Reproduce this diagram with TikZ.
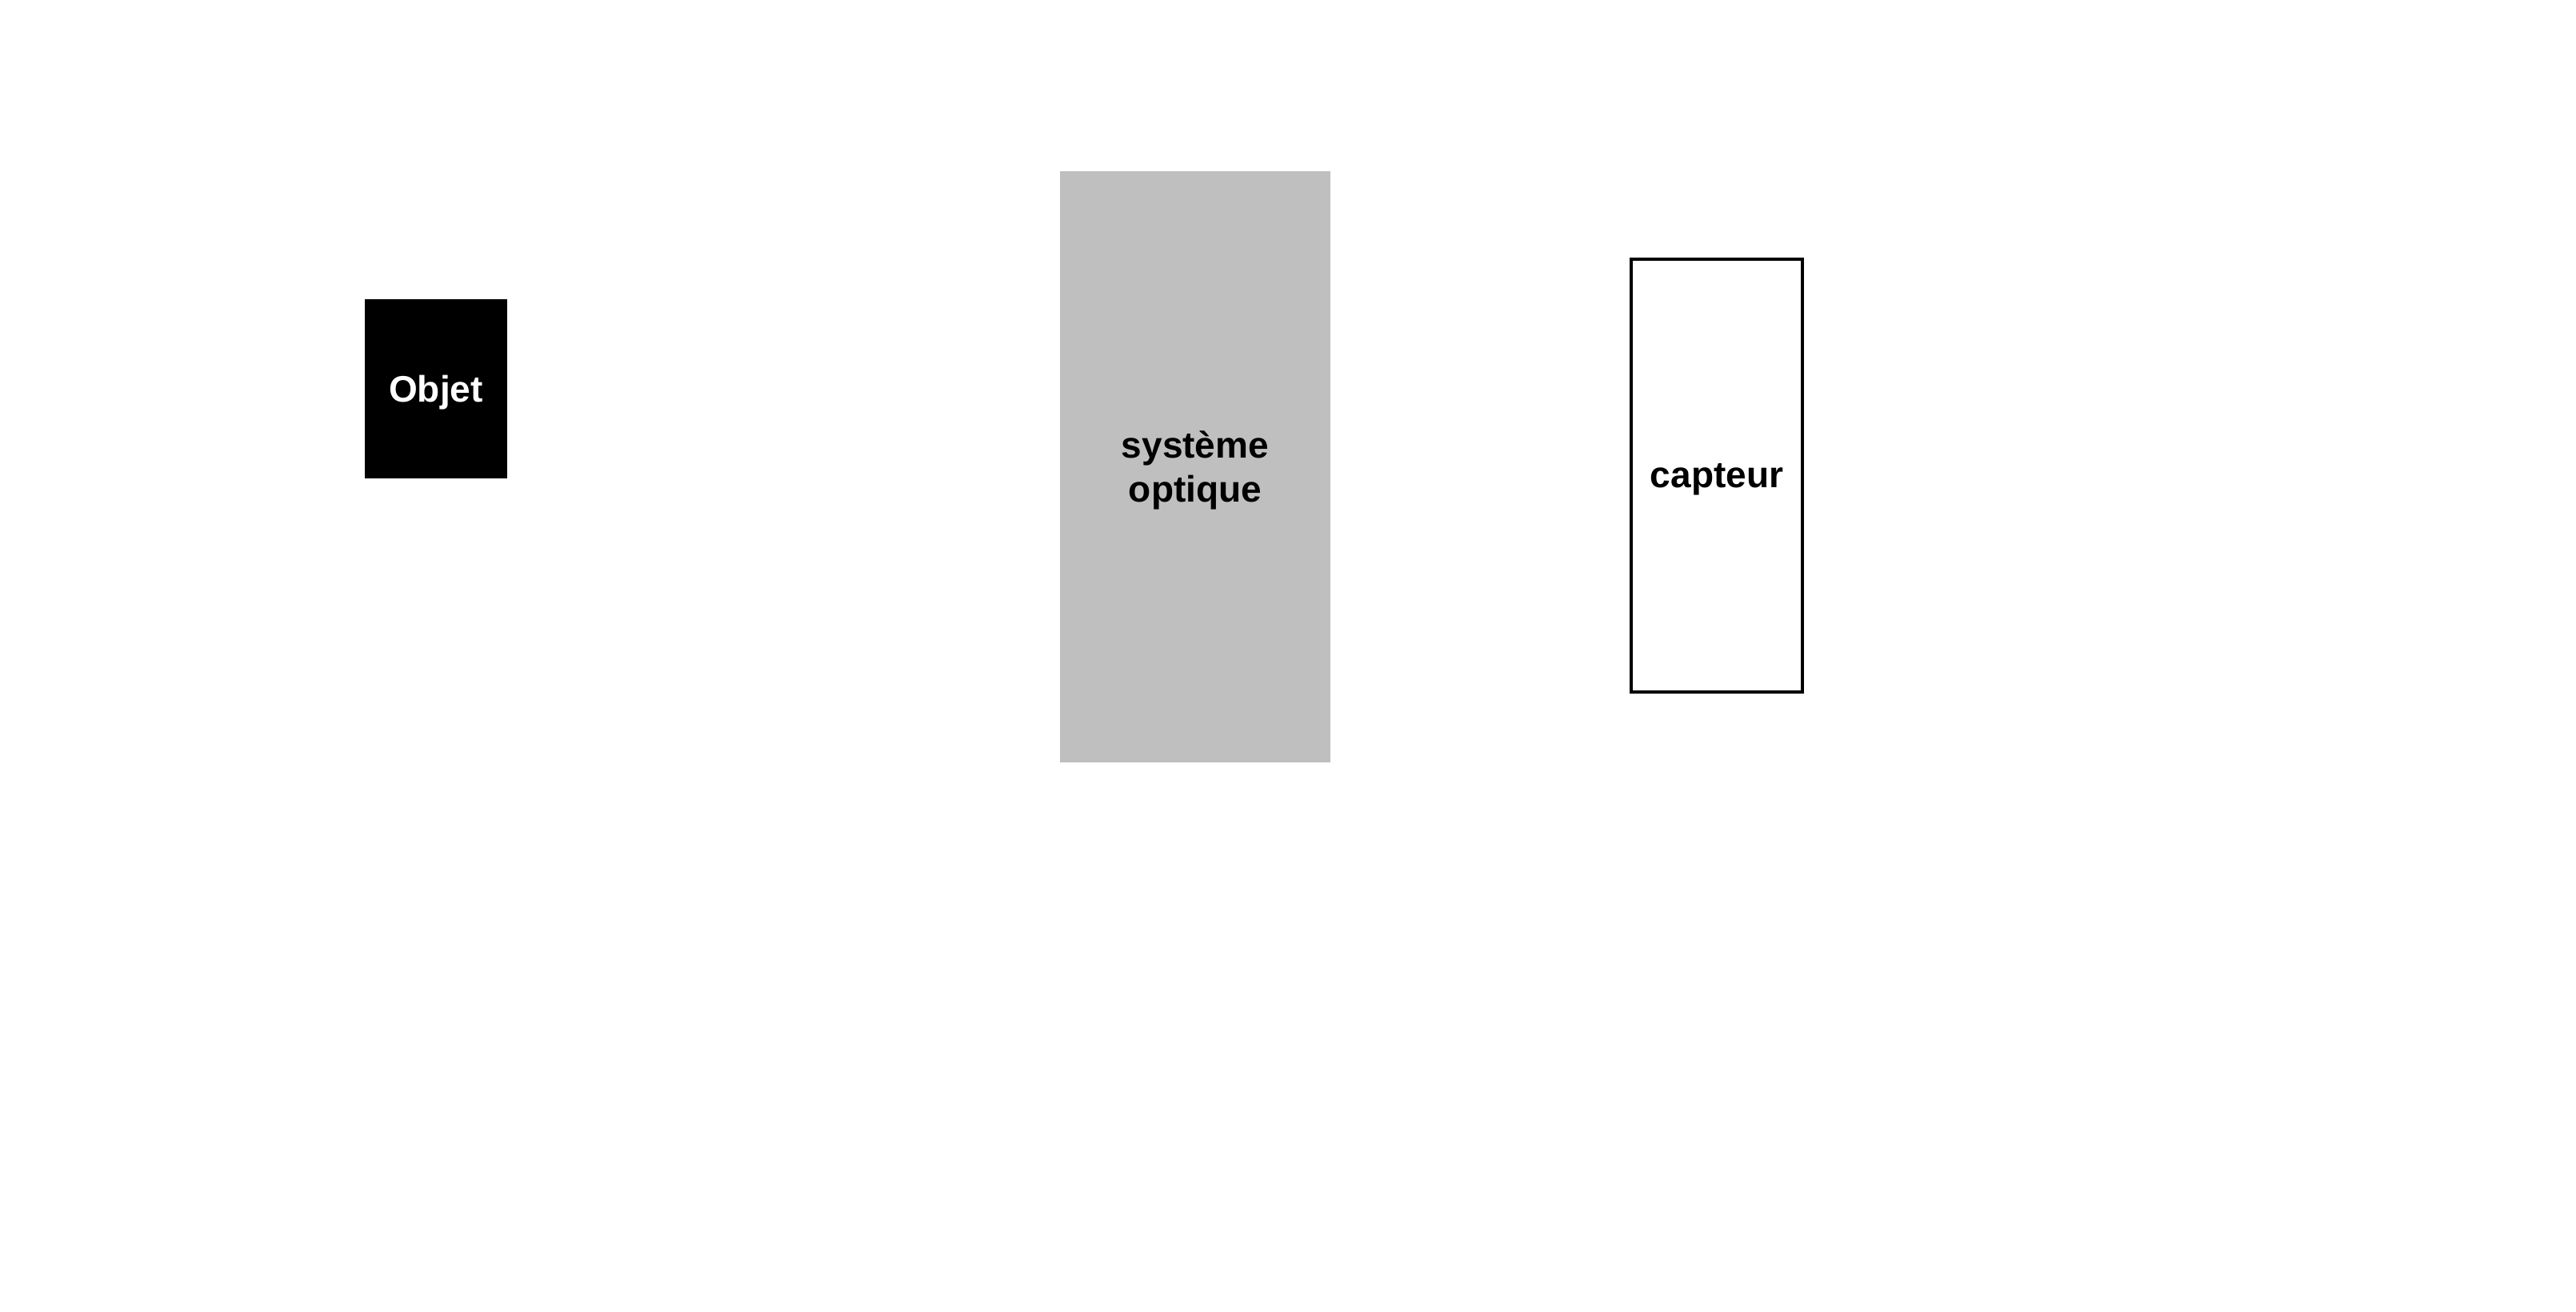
\documentclass[tikz,border=0pt]{standalone}
\usepackage{fontspec}
\setmainfont{Liberation Sans}
\usepackage{tikz}

\begin{document}
\begin{tikzpicture}[
  bloc/.style={rectangle, inner sep=0pt, align=center, text depth=0pt,
    font=\fontsize{13.1}{15.7}\selectfont\bfseries}
]
\useasboundingbox (0,0) rectangle (32.2,-16.4);
\node[bloc, fill=black, text=white, minimum width=1.78cm, minimum height=2.24cm] (objet) at (5.45, -4.86) {Objet};
\node[bloc, fill={rgb,255:red,191;green,191;blue,191}, minimum width=3.38cm, minimum height=7.39cm] (optique) at (14.94, -5.835) {système\\optique};
\node[bloc, draw=black, line width=1.15pt, minimum width=2.14cm, minimum height=5.41cm] (capteur) at (21.46, -5.945) {capteur};
\end{tikzpicture}
\end{document}
